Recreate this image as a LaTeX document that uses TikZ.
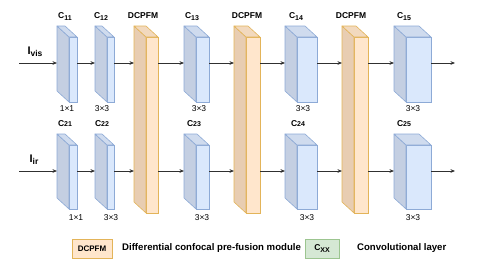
\documentclass[tikz,border=0pt]{standalone}
\usepackage{fontspec}
\setmainfont{Liberation Sans}
\usetikzlibrary{calc,arrows.meta}
\definecolor{bfront}{HTML}{DAE8FC}
\definecolor{bside}{HTML}{C4CFE2}
\definecolor{btop}{HTML}{CFDBEE}
\definecolor{bstroke}{HTML}{8DAAD6}
\definecolor{ofront}{HTML}{FFE6CC}
\definecolor{oside}{HTML}{E8CDB2}
\definecolor{otop}{HTML}{F2D9BE}
\definecolor{ostroke}{HTML}{E3B459}
\definecolor{gfill}{HTML}{D5E8D4}
\definecolor{gstroke}{HTML}{9CC590}
\definecolor{arr}{HTML}{303030}
% #1 name, #2 front left, #3 front right, #4 front top, #5 front bottom, #6 colour prefix
\newcommand\mkcube[6]{%
  \node[draw=#6stroke, fill=#6front, inner sep=0pt, outer sep=0pt, anchor=north west,
        minimum width={(#3-#2)*1pt}, minimum height={(#5-#4)*1pt}, line width=0.6pt] (#1) at (#2,#4) {};
  \filldraw[draw=#6stroke, fill=#6side, line width=0.6pt, line join=round]
    (#1.north west) -- ++(-12,-11) -- ($(#1.south west)+(-12,-11)$) -- (#1.south west) -- cycle;
  \filldraw[draw=#6stroke, fill=#6top, line width=0.6pt, line join=round]
    (#1.north west) -- ++(-12,-11) -- ($(#1.north east)+(-12,-11)$) -- (#1.north east) -- cycle;
}
\tikzset{
  conn/.style={draw=arr, line width=0.6pt, -{Stealth[length=4.5pt,width=3.6pt]}},
  clabel/.style={font=\fontsize{8.5}{9}\selectfont\bfseries, inner sep=0pt},
  slabel/.style={font=\fontsize{8.5}{9}\selectfont, inner sep=0pt},
  legtext/.style={font=\fontsize{9.6}{10}\selectfont\bfseries, inner sep=0pt, anchor=west},
}
\begin{document}
\begin{tikzpicture}[x=1pt,y=-1pt]
\useasboundingbox (0,0) rectangle (480,271);
% top row cubes
\mkcube{c11}{69}{77}{37}{102}{b}
\mkcube{c12}{107}{114}{37}{102}{b}
\mkcube{d1}{146}{158}{37}{213}{o}
\mkcube{c13}{196}{209}{37}{102}{b}
\mkcube{d2}{246}{260}{37}{213}{o}
\mkcube{c14}{297}{317}{37}{102}{b}
\mkcube{d3}{354}{368}{37}{213}{o}
\mkcube{c15}{406}{431}{37}{102}{b}
% bottom row cubes
\mkcube{c21}{69}{77}{145}{209}{b}
\mkcube{c22}{107}{114}{145}{209}{b}
\mkcube{c23}{196}{209}{145}{209}{b}
\mkcube{c24}{297}{317}{145}{209}{b}
\mkcube{c25}{406}{431}{145}{209}{b}
% connection points
\foreach \n/\xl/\xr in {c11/57/77, c12/95/114, d1/134/158, c13/184/209, d2/234/260, c14/285/317, d3/342/368, c15/394/431}{
  \coordinate (\n-in) at (\xl,63);
  \coordinate (\n-out) at (\xr,63);
}
\foreach \n/\xl/\xr in {c21/57/77, c22/95/114, e1/134/158, c23/184/209, e2/234/260, c24/285/317, e3/342/368, c25/394/431}{
  \coordinate (\n-in) at (\xl,171);
  \coordinate (\n-out) at (\xr,171);
}
\coordinate (vis-start) at (19,63);
\coordinate (ir-start) at (19,171);
\coordinate (vis-end) at (455,63);
\coordinate (ir-end) at (455,171);
% arrows top
\draw[conn] (vis-start) -- (c11-in);
\draw[conn] (c11-out) -- (c12-in);
\draw[conn] (c12-out) -- (d1-in);
\draw[conn] (d1-out) -- (c13-in);
\draw[conn] (c13-out) -- (d2-in);
\draw[conn] (d2-out) -- (c14-in);
\draw[conn] (c14-out) -- (d3-in);
\draw[conn] (d3-out) -- (c15-in);
\draw[conn] (c15-out) -- (vis-end);
% arrows bottom
\draw[conn] (ir-start) -- (c21-in);
\draw[conn] (c21-out) -- (c22-in);
\draw[conn] (c22-out) -- (e1-in);
\draw[conn] (e1-out) -- (c23-in);
\draw[conn] (c23-out) -- (e2-in);
\draw[conn] (e2-out) -- (c24-in);
\draw[conn] (c24-out) -- (e3-in);
\draw[conn] (e3-out) -- (c25-in);
\draw[conn] (c25-out) -- (ir-end);
% input labels
\node[font=\fontsize{11}{12}\selectfont\bfseries, inner sep=0pt] (lvis) at (35,52) {I\raisebox{-2pt}{\fontsize{8.5}{9}\selectfont vis}};
\node[font=\fontsize{11}{12}\selectfont\bfseries, inner sep=0pt] (lir) at (34,160) {I\raisebox{-2pt}{\fontsize{8.5}{9}\selectfont ir}};
% top labels
\node[clabel] (t11) at (65,17) {C\raisebox{-2pt}{\fontsize{7}{8}\selectfont 11}};
\node[clabel] (t12) at (101,17) {C\raisebox{-2pt}{\fontsize{7}{8}\selectfont 12}};
\node[clabel] (td1) at (143,16) {DCPFM};
\node[clabel] (t13) at (192,17) {C\raisebox{-2pt}{\fontsize{7}{8}\selectfont 13}};
\node[clabel] (td2) at (247,16) {DCPFM};
\node[clabel] (t14) at (296,17) {C\raisebox{-2pt}{\fontsize{7}{8}\selectfont 14}};
\node[clabel] (td3) at (351,16) {DCPFM};
\node[clabel] (t15) at (404,17) {C\raisebox{-2pt}{\fontsize{7}{8}\selectfont 15}};
% top sizes
\node[slabel] (s11) at (67,109) {1×1};
\node[slabel] (s12) at (102,109) {3×3};
\node[slabel] (s13) at (199,109) {3×3};
\node[slabel] (s14) at (303,109) {3×3};
\node[slabel] (s15) at (413,109) {3×3};
% bottom labels
\node[clabel] (t21) at (65,124) {C{\fontsize{7}{8}\selectfont 21}};
\node[clabel] (t22) at (102,124) {C{\fontsize{7}{8}\selectfont 22}};
\node[clabel] (t23) at (194,124) {C{\fontsize{7}{8}\selectfont 23}};
\node[clabel] (t24) at (298,124) {C{\fontsize{7}{8}\selectfont 24}};
\node[clabel] (t25) at (404,124) {C{\fontsize{7}{8}\selectfont 25}};
% bottom sizes
\node[slabel] (s21) at (76,218) {1×1};
\node[slabel] (s22) at (111,218) {3×3};
\node[slabel] (s23) at (202,218) {3×3};
\node[slabel] (s24) at (307,218) {3×3};
\node[slabel] (s25) at (413,218) {3×3};
% legend
\node[draw=ostroke, fill=ofront, line width=0.6pt, minimum width=40pt, minimum height=19pt, inner sep=0pt,
      font=\fontsize{8}{9}\selectfont\bfseries] (leg1) at (92,248.5) {DCPFM};
\node[legtext] (leg1t) at (122,248.5) {Differential confocal pre-fusion module};
\node[draw=gstroke, fill=gfill, line width=0.6pt, minimum width=34pt, minimum height=19pt, inner sep=0pt,
      font=\fontsize{8.5}{9}\selectfont\bfseries] (leg2) at (322,248.5) {C\raisebox{-2pt}{\fontsize{7}{8}\selectfont XX}};
\node[legtext] (leg2t) at (357,248.5) {Convolutional layer};
\end{tikzpicture}
\end{document}
